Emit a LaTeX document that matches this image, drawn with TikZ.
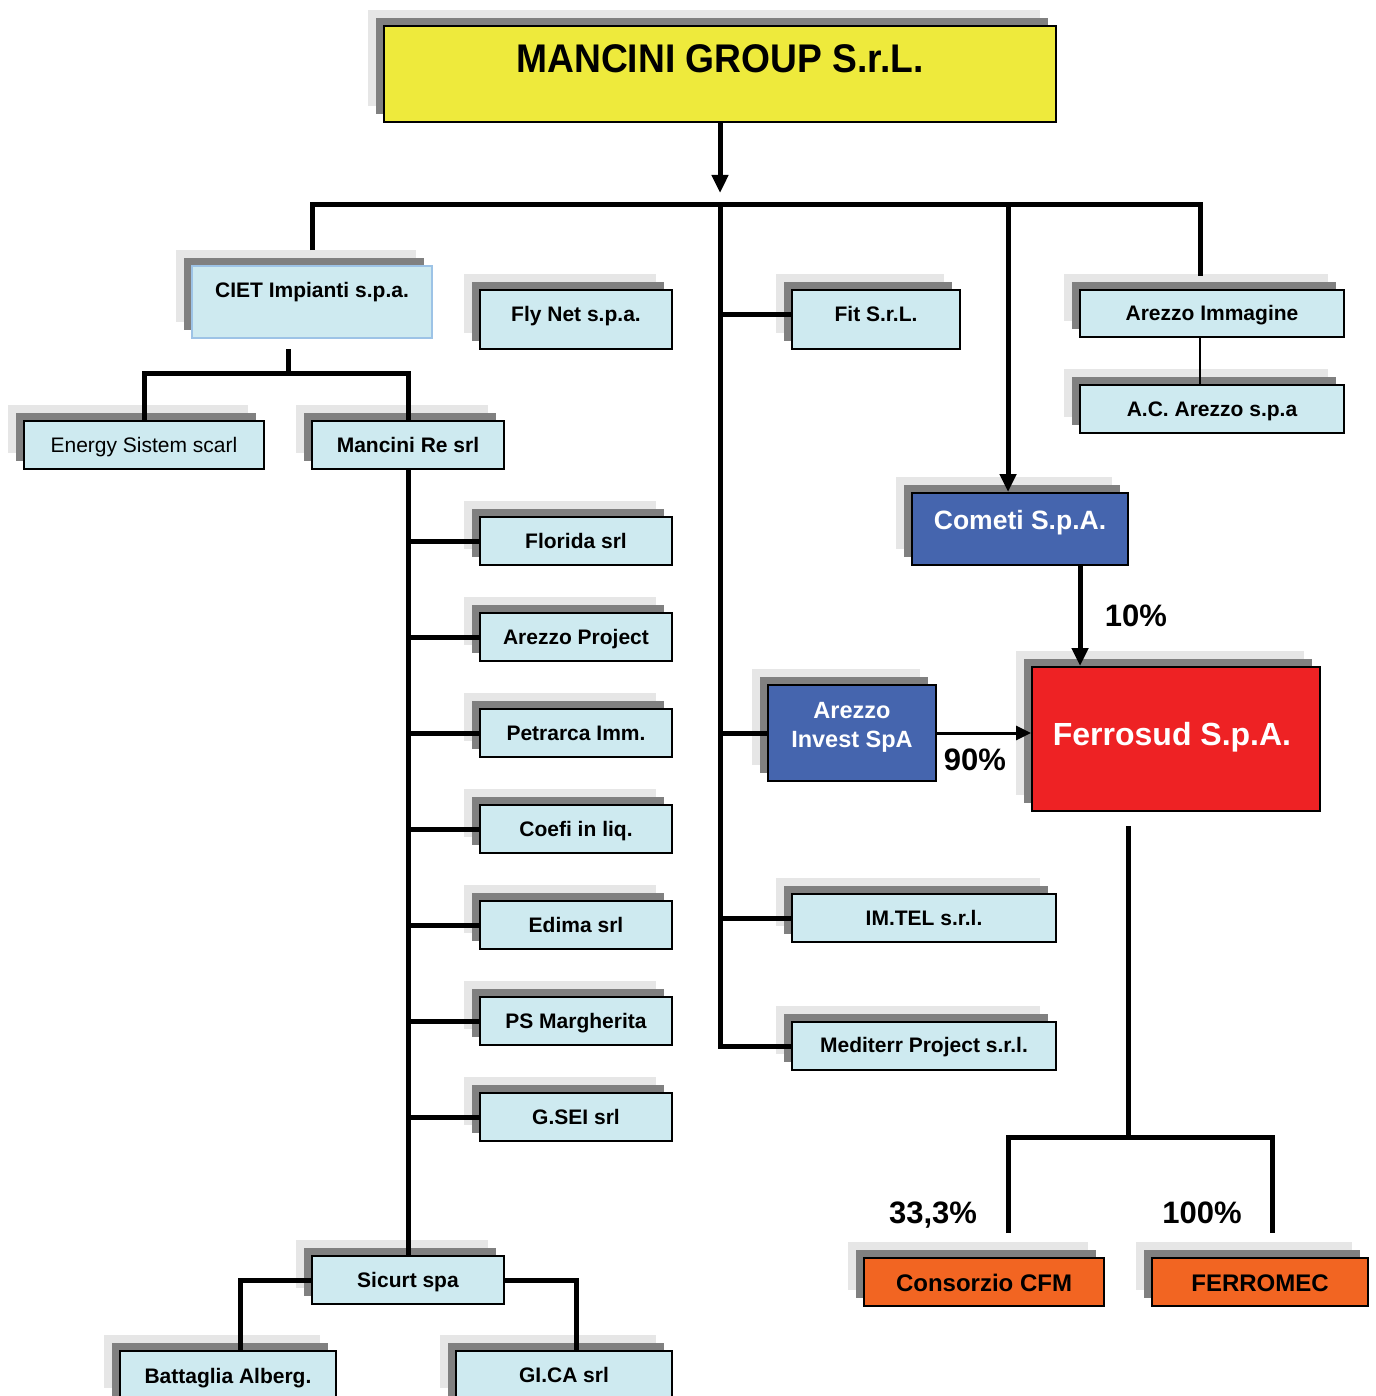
\documentclass[tikz,border=0pt]{standalone}
\usepackage{fontspec}
\setmainfont{Liberation Sans}
\newfontfamily\condfont[FakeStretch=0.93]{Liberation Sans}
\usetikzlibrary{fit,arrows.meta}
\definecolor{ylw}{RGB}{238,234,60}
\definecolor{lblue}{RGB}{206,234,240}
\definecolor{cietb}{RGB}{157,195,230}
\definecolor{bblue}{RGB}{69,101,174}
\definecolor{fred}{RGB}{238,34,36}
\definecolor{forange}{RGB}{242,101,34}
\definecolor{shdark}{RGB}{128,128,128}
\definecolor{shlight}{RGB}{230,230,230}
\newcommand\orgbox[6]{%
  \fill[shlight] (#2-16,#3-16) rectangle (#4-16,#5-16);
  \fill[shdark] (#2-8,#3-8) rectangle (#4-8,#5-8);
  \node[#6, fit={(#2,#3) (#4,#5)}] (#1) {};
}
\tikzset{
  boxbase/.style={inner sep=0pt, line width=1pt, draw=black},
  lb/.style={boxbase, fill=lblue},
  lbc/.style={boxbase, fill=lblue, draw=cietb},
  yb/.style={boxbase, fill=ylw},
  bb/.style={boxbase, fill=bblue},
  rb/.style={boxbase, fill=fred},
  ob/.style={boxbase, fill=forange},
  tb/.style={anchor=base, inner sep=0pt, font=\bfseries\fontsize{10.5}{12.6}\selectfont},
  tn/.style={anchor=base, inner sep=0pt, font=\fontsize{10.5}{12.6}\selectfont},
  tw/.style={anchor=base, inner sep=0pt, text=white},
  pct/.style={anchor=base, inner sep=0pt, font=\bfseries\fontsize{15.5}{18}\selectfont},
  conn/.style={line width=2.5pt},
  arr/.style={-{Triangle[length=9pt,width=8pt]}},
  sarr/.style={-{Triangle[length=7.5pt,width=7pt]}},
}
\begin{document}
\begin{tikzpicture}[x=0.5pt,y=-0.5pt]
\useasboundingbox (0,0) rectangle (1375,1396);
% boxes
\orgbox{mancini}{384}{26}{1056}{122}{yb}
\orgbox{ciet}{192}{266}{432}{338}{lbc}
\orgbox{fly}{480}{290}{672}{349}{lb}
\orgbox{fitt}{792}{290}{960}{349}{lb}
\orgbox{immag}{1080}{290}{1344}{337}{lb}
\orgbox{acar}{1080}{385}{1344}{433}{lb}
\orgbox{energy}{24}{421}{264}{469}{lb}
\orgbox{manre}{312}{421}{504}{469}{lb}
\orgbox{cometi}{912}{493}{1128}{565}{bb}
\orgbox{invest}{768}{685}{936}{781}{bb}
\orgbox{ferro}{1032}{667}{1320}{811}{rb}
\orgbox{imtel}{792}{894}{1056}{942}{lb}
\orgbox{medit}{792}{1022}{1056}{1070}{lb}
\orgbox{sicurt}{312}{1256}{504}{1304}{lb}
\orgbox{batt}{120}{1351}{336}{1404}{lb}
\orgbox{gica}{456}{1351}{672}{1404}{lb}
\orgbox{cfm}{864}{1258}{1104}{1306}{ob}
\orgbox{ferromec}{1152}{1258}{1368}{1306}{ob}
\foreach \n/\t [count=\i from 0] in {florida/Florida srl, arproj/Arezzo Project, petrarca/Petrarca Imm., coefi/Coefi in liq., edima/Edima srl, psmarg/PS Margherita, gsei/G.SEI srl}{
  \orgbox{\n}{480}{517+96*\i}{672}{565+96*\i}{lb}
  \node[tb] (\n-t) at (576,548.5+96*\i) {\t};
  \draw[conn] (manre.south |- \n.west) -- (\n.west);
}
% texts
\node[anchor=base, inner sep=0pt, font=\condfont\bfseries\fontsize{20}{24}\selectfont] (mancini-t) at (720,73) {MANCINI GROUP S.r.L.};
\node[tb] (ciet-t) at (312,297.5) {CIET Impianti s.p.a.};
\node[tb] (fly-t) at (576,321.5) {Fly Net s.p.a.};
\node[tb] (fitt-t) at (876,321.5) {Fit S.r.L.};
\node[tb] (immag-t) at (1212,320.5) {Arezzo Immagine};
\node[tb] (acar-t) at (1212,416.5) {A.C. Arezzo s.p.a};
\node[tn] (energy-t) at (144,452.5) {Energy Sistem scarl};
\node[tb] (manre-t) at (408,452.5) {Mancini Re srl};
\node[tw, font=\bfseries\fontsize{13.25}{16}\selectfont] (cometi-t) at (1020,529.5) {Cometi S.p.A.};
\node[tw, font=\bfseries\fontsize{11.75}{14}\selectfont] (invest-t1) at (852,718.4) {Arezzo};
\node[tw, font=\bfseries\fontsize{11.75}{14}\selectfont] (invest-t2) at (852,747.4) {Invest SpA};
\node[tw, font=\bfseries\fontsize{16}{19}\selectfont] (ferro-t) at (1172,745.5) {Ferrosud S.p.A.};
\node[tb] (imtel-t) at (924,925.5) {IM.TEL s.r.l.};
\node[tb] (medit-t) at (924,1052.5) {Mediterr Project s.r.l.};
\node[tb] (sicurt-t) at (408,1287.5) {Sicurt spa};
\node[tb] (batt-t) at (228,1383.5) {Battaglia Alberg.};
\node[tb] (gica-t) at (564,1382.5) {GI.CA srl};
\node[tb, font=\bfseries\fontsize{12}{14}\selectfont] (cfm-t) at (984,1291.6) {Consorzio CFM};
\node[tb, font=\bfseries\fontsize{12}{14}\selectfont] (ferromec-t) at (1260,1291.6) {FERROMEC};
\node[pct] (p10) at (1136,626) {10\%};
\node[pct] (p90) at (975,770) {90\%};
\node[pct] (p33) at (933,1223) {33,3\%};
\node[pct] (p100) at (1202,1223) {100\%};
% coordinates
\coordinate (hub) at (720,193);
\coordinate (bar) at (720,205);
\coordinate (cj) at (1008,205);
\coordinate (ij) at (1200,276);
\coordinate (b1) at (720,314);
\coordinate (ctop) at (312,250);
\coordinate (cbot) at (288,349);
\coordinate (cs) at (288,373);
\coordinate (fx) at (1080,600);
\coordinate (fd) at (1128,826);
\coordinate (split) at (1128,1137);
\coordinate (lc) at (1008,1233);
\coordinate (rc) at (1272,1233);
\coordinate (bx) at (240,1351);
\coordinate (gx) at (576,1351);
% connectors
\draw[conn, arr] (mancini.south) -- (hub);
\draw[conn] (ctop) -- (ctop |- bar) -| (ij);
\draw[conn] (bar) |- (medit.west);
\draw[conn] (b1) -- (b1 -| fitt.west);
\draw[conn] (bar |- invest.west) -- (invest.west);
\draw[conn] (bar |- imtel.west) -- (imtel.west);
\draw[conn, arr] (cj) -- (cj |- cometi.north);
\draw[line width=1pt] (immag.south -| ij) -- (acar.north -| ij);
\draw[conn] (cbot) -- (cs);
\draw[conn] (energy.north) -- (energy.north |- cs) -| (manre.north);
\draw[conn] (manre.south) -- (sicurt.north);
\draw[conn] (sicurt.west) -| (bx);
\draw[conn] (sicurt.east) -| (gx);
\draw[conn, arr] (cometi.south -| fx) -- (ferro.north -| fx);
\draw[line width=1.5pt, sarr] (invest.east) -- (invest.east -| ferro.west);
\draw[conn] (fd) -- (split);
\draw[conn] (lc) |- (split) -| (rc);
\end{tikzpicture}
\end{document}
